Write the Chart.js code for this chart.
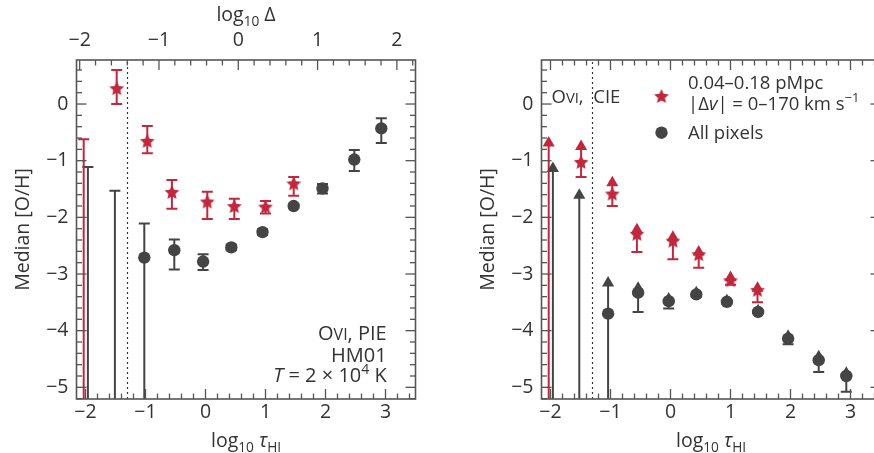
<!DOCTYPE html>
<html>
<head>
<meta charset="utf-8">
<script src="https://cdn.jsdelivr.net/npm/chart.js@4.4.1/dist/chart.umd.min.js"></script>
<style>
  html, body { margin: 0; padding: 0; background: #fff; overflow: hidden; }
  #wrap { position: relative; width: 874px; height: 453px; overflow: hidden; }
  .panel { position: absolute; top: 0; width: 440px; height: 453px; }
</style>
</head>
<body>
<div id="wrap">
  <div class="panel" style="left:0"><canvas id="pie" width="440" height="453"></canvas></div>
  <div class="panel" style="left:465.3px"><canvas id="cie" width="440" height="453"></canvas></div>
</div>
<script>
// axis ranges
let tauMin = -2.15, tauMax = 3.5;
let deltaMin = -2.04, deltaMax = 2.235;
let metMin = -5.206, metMax = 0.777;
let tauLimit = -1.3; // dotted line

// --- O VI, PIE (left) ---
// 0.04-0.18 pMpc, |dv| = 0-170 km/s
let pieStarTau = [-2.03, -1.48, -0.97, -0.56, 0.03, 0.48, 1.0, 1.47];
let pieStarMed = [null, 0.28, -0.65, -1.55, -1.72, -1.80, -1.81, -1.40];
let pieStarHi  = [-0.62, 0.60, -0.39, -1.34, -1.55, -1.67, -1.71, -1.29];
let pieStarLo  = [-6.5, 0.0, -0.87, -1.85, -2.03, -2.03, -1.93, -1.62];
// all pixels
let pieAllTau = [-1.96, -1.51, -1.02, -0.52, -0.04, 0.43, 0.95, 1.47, 1.95, 2.48, 2.93];
let pieAllMed = [null, null, -2.71, -2.58, -2.78, -2.53, -2.26, -1.80, -1.49, -0.98, -0.43];
let pieAllHi  = [-1.11, -1.53, -2.11, -2.39, -2.65, -2.48, -2.21, -1.76, -1.41, -0.81, -0.25];
let pieAllLo  = [-6.5, -6.5, -6.5, -2.92, -2.93, -2.58, -2.31, -1.84, -1.58, -1.18, -0.69];

// --- O VI, CIE (right) ---
let cieStarTau = [-2.03, -1.49, -0.97, -0.56, 0.04, 0.47, 1.0, 1.45];
let cieStarMed = [null, -1.02, -1.58, -2.29, -2.41, -2.65, -3.11, -3.28];
let cieStarHi  = [-0.69, -0.75, -1.39, -2.22, -2.35, -2.61, -3.06, -3.25];
let cieStarLo  = [-6.5, -1.29, -1.80, -2.61, -2.74, -2.89, -3.19, -3.50];
let cieAllTau = [-1.96, -1.52, -1.04, -0.54, -0.03, 0.43, 0.94, 1.46, 1.96, 2.47, 2.93];
let cieAllMed = [null, null, -3.70, -3.33, -3.48, -3.36, -3.49, -3.67, -4.14, -4.52, -4.80];
let cieAllHi  = [-1.14, -1.61, -3.16, -3.25, -3.44, -3.33, -3.47, -3.65, -4.10, -4.46, -4.75];
let cieAllLo  = [-6.5, -6.5, -6.5, -3.67, -3.61, -3.40, -3.52, -3.69, -4.24, -4.73, -5.08];

const RED = '#c0283e';
const GRAY = '#444444';
const INK = '#333333';
const FAMILY = "'Open Sans', 'DejaVu Sans', sans-serif";
const WEIGHT = '400';

function pts(xs, ys) {
    return xs.map((x, i) => ({ x: x, y: ys[i] }));
}

function minus(v) {
    return v < 0 ? '\u2212' + Math.abs(v) : String(v);
}

// filled five-pointed star used as a point style
function makeStar(color, rOut) {
    let c = document.createElement('canvas');
    let s = Math.ceil(rOut * 2 + 2);
    c.width = s; c.height = s;
    let g = c.getContext('2d');
    let rIn = rOut * 0.47;
    g.beginPath();
    for (let k = 0; k < 10; k++) {
        let r = k % 2 === 0 ? rOut : rIn;
        let a = -Math.PI / 2 + k * Math.PI / 5;
        let px = s / 2 + r * Math.cos(a), py = s / 2 + r * Math.sin(a) + 0.8;
        if (k === 0) g.moveTo(px, py); else g.lineTo(px, py);
    }
    g.closePath();
    g.fillStyle = color;
    g.fill();
    return c;
}
const starImg = makeStar(RED, 7.8);

// text with subscripts, superscripts, italics and small caps
function rich(ctx, parts, x, y, align, size) {
    let fontFor = p => {
        let s = size;
        if (p.s === 'sub' || p.s === 'sup') s = size * 0.7;
        if (p.s === 'sc') s = size * 0.8;
        return (p.i ? 'italic ' : '') + WEIGHT + ' ' + s + 'px ' + FAMILY;
    };
    let widths = parts.map(p => { ctx.font = fontFor(p); return ctx.measureText(p.t).width; });
    let w = widths.reduce((a, b) => a + b, 0);
    let cx = align === 'right' ? x - w : align === 'center' ? x - w / 2 : x;
    ctx.textAlign = 'left';
    ctx.textBaseline = 'alphabetic';
    parts.forEach((p, i) => {
        ctx.font = fontFor(p);
        let dy = p.s === 'sub' ? size * 0.28 : p.s === 'sup' ? -size * 0.4 : 0;
        ctx.fillText(p.t, cx, y + dy);
        cx += widths[i];
    });
}

const tauTitle = [{ t: 'log' }, { t: '10', s: 'sub' }, { t: ' \u03c4', i: true }, { t: 'HI', s: 'sub' }];
const metTitle = [{ t: 'Median [O/H]' }];

// error bars: vertical line, flat cap at the low end, optional flat cap at the top
function errorBarPlugin(series) {
    return {
        id: 'errorBars',
        beforeDatasetsDraw(chart) {
            let { ctx, chartArea: a, scales: { x, y } } = chart;
            ctx.save();
            ctx.beginPath();
            ctx.rect(a.left, a.top, a.width, a.height);
            ctx.clip();
            ctx.lineWidth = 2;
            for (let s of series) {
                ctx.strokeStyle = s.color;
                s.tau.forEach((t, i) => {
                    let px = x.getPixelForValue(t);
                    let pLo = y.getPixelForValue(s.lo[i]);
                    let pHi = y.getPixelForValue(s.hi[i]);
                    ctx.beginPath();
                    ctx.moveTo(px, pLo); ctx.lineTo(px, pHi);
                    ctx.moveTo(px - 5.5, pLo); ctx.lineTo(px + 5.5, pLo);
                    if (s.topCap) { ctx.moveTo(px - 5.5, pHi); ctx.lineTo(px + 5.5, pHi); }
                    ctx.stroke();
                });
            }
            ctx.restore();
        }
    };
}

// box frame with inward ticks on all four sides, plus axis titles
function tickMarks(lo, hi) {
    let out = [];
    for (let k = Math.ceil(lo / 0.2 - 1e-9); k <= Math.floor(hi / 0.2 + 1e-9); k++) {
        out.push({ v: k * 0.2, major: k % 5 === 0 });
    }
    return out;
}

const framePlugin = {
    id: 'frame',
    afterDraw(chart) {
        let { ctx, chartArea: a, scales } = chart;
        ctx.save();
        ctx.strokeStyle = '#555';
        ctx.lineWidth = 1.3;
        let seg = (x1, y1, x2, y2) => { ctx.beginPath(); ctx.moveTo(x1, y1); ctx.lineTo(x2, y2); ctx.stroke(); };
        for (let m of tickMarks(tauMin, tauMax)) {
            let px = scales.x.getPixelForValue(m.v), L = m.major ? 10 : 5.5;
            seg(px, a.bottom, px, a.bottom - L);
            if (!scales.x2) seg(px, a.top, px, a.top + L);
        }
        if (scales.x2) {
            for (let m of tickMarks(deltaMin, deltaMax)) {
                let px = scales.x2.getPixelForValue(m.v), L = m.major ? 10 : 5.5;
                seg(px, a.top, px, a.top + L);
            }
        }
        for (let m of tickMarks(metMin, metMax)) {
            let py = scales.y.getPixelForValue(m.v), L = m.major ? 10 : 5.5;
            seg(a.left, py, a.left + L, py);
            seg(a.right, py, a.right - L, py);
        }
        ctx.lineWidth = 1.6;
        ctx.strokeRect(a.left, a.top, a.width, a.height);

        ctx.fillStyle = INK;
        let cx = (a.left + a.right) / 2;
        rich(ctx, tauTitle, cx, 447, 'center', 19.5);
        if (scales.x2) {
            rich(ctx, [{ t: 'log' }, { t: '10', s: 'sub' }, { t: ' \u0394' }], cx, 21, 'center', 19.5);
        }
        ctx.save();
        ctx.translate(a.left - 47.5, (a.top + a.bottom) / 2);
        ctx.rotate(-Math.PI / 2);
        rich(ctx, metTitle, 0, 0, 'center', 19.5);
        ctx.restore();
        ctx.restore();
    }
};

const pieText = {
    id: 'pieText',
    afterDraw(chart) {
        let { ctx, chartArea: a } = chart;
        ctx.save();
        ctx.fillStyle = INK;
        let xr = a.right - 28.8;
        rich(ctx, [{ t: 'O' }, { t: 'VI', s: 'sc' }, { t: ', PIE' }], xr, 340, 'right', 20);
        rich(ctx, [{ t: 'HM01' }], xr, 361.5, 'right', 20);
        rich(ctx, [{ t: 'T', i: true }, { t: ' = 2 \u00d7 10' }, { t: '4', s: 'sup' }, { t: ' K' }], xr, 382.3, 'right', 20);
        ctx.restore();
    }
};

const cieText = {
    id: 'cieText',
    afterDraw(chart) {
        let { ctx, chartArea: a } = chart;
        ctx.save();
        ctx.fillStyle = INK;
        rich(ctx, [{ t: 'O' }, { t: 'VI', s: 'sc' }, { t: ',  CIE' }], a.left + 10, a.top + 42.5, 'left', 18.5);
        // legend
        ctx.drawImage(starImg, a.left + 120 - starImg.width / 2, a.top + 36 - starImg.height / 2);
        ctx.fillStyle = GRAY;
        ctx.beginPath();
        ctx.arc(a.left + 120, a.top + 72.7, 6.2, 0, Math.PI * 2);
        ctx.fill();
        ctx.fillStyle = INK;
        rich(ctx, [{ t: '0.04\u20130.18 pMpc' }], a.left + 146.5, a.top + 29, 'left', 18.5);
        rich(ctx, [{ t: '|\u0394' }, { t: 'v', i: true }, { t: '| = 0\u2013170 km s' }, { t: '\u22121', s: 'sup' }], a.left + 146.5, a.top + 49.5, 'left', 18.5);
        rich(ctx, [{ t: 'All pixels' }], a.left + 146.5, a.top + 79, 'left', 18.5);
        ctx.restore();
    }
};

function tickFont() {
    return { family: FAMILY, size: 19.5, weight: WEIGHT };
}

function baseScales() {
    return {
        x: {
            type: 'linear', position: 'bottom', min: tauMin, max: tauMax,
            grid: { display: false, drawTicks: false },
            border: { display: false },
            ticks: { stepSize: 1, includeBounds: false, padding: 2, color: INK, font: tickFont(), callback: minus, maxRotation: 0 },
            afterFit: s => { s.height = 54; }
        },
        y: {
            type: 'linear', position: 'left', min: metMin, max: metMax,
            grid: { display: false, drawTicks: false },
            border: { display: false },
            ticks: { stepSize: 1, includeBounds: false, padding: 8, color: INK, font: tickFont(), callback: minus },
            afterFit: s => { s.width = 76.5; }
        }
    };
}

function datasets(starTau, starMed, allTau, allMed, arrows) {
    let ds = [
        { label: '0.04\u20130.18 pMpc', data: pts(starTau, starMed), pointStyle: starImg, order: 0 },
        { label: 'All pixels', data: pts(allTau, allMed), pointStyle: 'circle', pointRadius: 6.2,
          backgroundColor: GRAY, borderColor: GRAY, borderWidth: 0, order: 2 },
        { label: 'limit', data: [{ x: tauLimit, y: metMin }, { x: tauLimit, y: metMax }], showLine: true,
          borderColor: '#333', borderWidth: 1.2, borderDash: [2, 3], pointRadius: 0, order: 4 }
    ];
    if (arrows) {
        ds.push({ label: 'arrowRed', data: pts(starTau, arrows.redHi), pointStyle: 'triangle', pointRadius: 7,
                  backgroundColor: RED, borderColor: RED, borderWidth: 0, order: 1 });
        ds.push({ label: 'arrowGray', data: pts(allTau, arrows.grayHi), pointStyle: 'triangle', pointRadius: 7,
                  backgroundColor: GRAY, borderColor: GRAY, borderWidth: 0, order: 3 });
    }
    return ds;
}

const common = {
    responsive: false,
    animation: false,
    events: [],
    plugins: { legend: { display: false }, tooltip: { enabled: false } }
};

// left: photo-ionisation equilibrium, with the overdensity axis on top
let pieScales = baseScales();
pieScales.x2 = {
    type: 'linear', position: 'top', axis: 'x', min: deltaMin, max: deltaMax,
    grid: { display: false, drawTicks: false },
    border: { display: false },
    ticks: { stepSize: 1, includeBounds: false, padding: 8, color: INK, font: tickFont(), callback: minus, maxRotation: 0 },
    afterFit: s => { s.height = 60; }
};
new Chart(document.getElementById('pie'), {
    type: 'scatter',
    data: { datasets: datasets(pieStarTau, pieStarMed, pieAllTau, pieAllMed, null) },
    options: Object.assign({}, common, {
        layout: { padding: { left: 0, right: 24.5, top: 0, bottom: 0 } },
        scales: pieScales
    }),
    plugins: [
        errorBarPlugin([
            { tau: pieAllTau, lo: pieAllLo, hi: pieAllHi, color: GRAY, topCap: true },
            { tau: pieStarTau, lo: pieStarLo, hi: pieStarHi, color: RED, topCap: true }
        ]),
        framePlugin, pieText
    ]
});

// right: collisional ionisation equilibrium, upper ends drawn as arrow heads
new Chart(document.getElementById('cie'), {
    type: 'scatter',
    data: { datasets: datasets(cieStarTau, cieStarMed, cieAllTau, cieAllMed, { redHi: cieStarHi, grayHi: cieAllHi }) },
    options: Object.assign({}, common, {
        layout: { padding: { left: 0, right: 24.5, top: 60, bottom: 0 } },
        scales: baseScales()
    }),
    plugins: [
        errorBarPlugin([
            { tau: cieAllTau, lo: cieAllLo, hi: cieAllHi, color: GRAY, topCap: false },
            { tau: cieStarTau, lo: cieStarLo, hi: cieStarHi, color: RED, topCap: false }
        ]),
        framePlugin, cieText
    ]
});
</script>
</body>
</html>
